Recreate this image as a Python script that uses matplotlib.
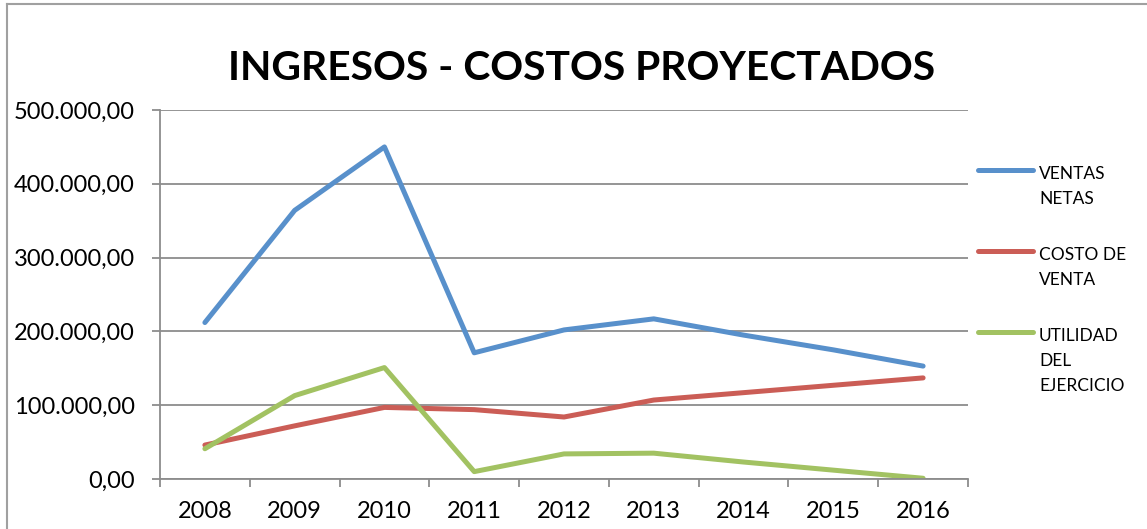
import matplotlib
matplotlib.use("Agg")
import matplotlib.pyplot as plt
from matplotlib.lines import Line2D
from matplotlib.ticker import FuncFormatter

# data
years = [2008, 2009, 2010, 2011, 2012, 2013, 2014, 2015, 2016]
ventas_netas = [212000, 364000, 450000, 171000, 202000, 217000, 195000, 175000, 153000]
costo_venta = [46000, 72000, 97000, 94000, 84000, 107000, 117000, 127000, 137000]
utilidad = [41000, 113000, 151000, 10000, 34000, 35000, 23000, 12000, 1000]

series = [ventas_netas, costo_venta, utilidad]
labels = ["VENTAS\nNETAS", "COSTO DE\nVENTA", "UTILIDAD\nDEL\nEJERCICIO"]
colors = ["#5890CB", "#CB5D56", "#A2C262"]

plt.rcParams['font.family'] = ['Lato', 'DejaVu Sans']

W, H = 1147, 529
fig = plt.figure(figsize=(W / 100, H / 100), dpi=100)
fig.patch.set_facecolor("white")

# plot area in pixel coords of the reference
left, right, top, bottom = 160, 968, 110, 479
ax = fig.add_axes([left / W, 1 - bottom / H, (right - left) / W, (bottom - top) / H])

x = list(range(len(years)))
for vals, c in zip(series, colors):
    ax.plot(x, vals, color=c, lw=3.6, solid_capstyle="round", solid_joinstyle="round")

ax.set_xlim(-0.5, len(years) - 0.5)
ax.set_ylim(0, 500000)
ax.set_yticks(range(0, 500001, 100000))
ax.yaxis.set_major_formatter(FuncFormatter(
    lambda v, p: f"{v:,.2f}".replace(",", "X").replace(".", ",").replace("X", ".")))
ax.grid(axis="y", color="#8C8C8C", lw=1.3)
ax.set_axisbelow(True)

# category boundaries get tick marks, centres get the labels
ax.set_xticks([i - 0.5 for i in range(len(years) + 1)])
ax.set_xticklabels([])
ax.set_xticks(x, minor=True)
ax.set_xticklabels([str(y) for y in years], minor=True)
ax.tick_params(axis="x", which="major", length=6, width=1.3, color="#8C8C8C", direction="out")
ax.tick_params(axis="x", which="minor", length=0, pad=16, labelsize=17)
ax.tick_params(axis="y", length=6, width=1.3, color="#8C8C8C", direction="out", pad=12, labelsize=17)

for s in ["top", "right"]:
    ax.spines[s].set_visible(False)
for s in ["left", "bottom"]:
    ax.spines[s].set_color("#8C8C8C")
    ax.spines[s].set_linewidth(1.3)

fig.text(582 / W, 1 - 80 / H, "INGRESOS - COSTOS PROYECTADOS", ha="center", va="baseline",
         fontsize=29.3, fontweight="bold")

# legend on the right, first text line level with the sample line
for i, (lab, c) in enumerate(zip(labels, colors)):
    ly = 170 + i * 81
    fig.add_artist(Line2D([978 / W, 1033 / W], [1 - ly / H, 1 - ly / H], color=c, lw=3.6,
                          solid_capstyle="round", transform=fig.transFigure))
    for j, part in enumerate(lab.split("\n")):
        fig.text(1039 / W, 1 - (179 + i * 81 + j * 25) / H, part, ha="left", va="baseline",
                 fontsize=12.5)

# chart frame (only top and left edges show in the crop)
fig.add_artist(Line2D([7 / W, 1], [1 - 4 / H, 1 - 4 / H], color="#A0A0A0", lw=1.5,
                      transform=fig.transFigure))
fig.add_artist(Line2D([7 / W, 7 / W], [0, 1 - 4 / H], color="#A0A0A0", lw=1.5,
                      transform=fig.transFigure))

fig.savefig("out.png", dpi=100, facecolor="white")
